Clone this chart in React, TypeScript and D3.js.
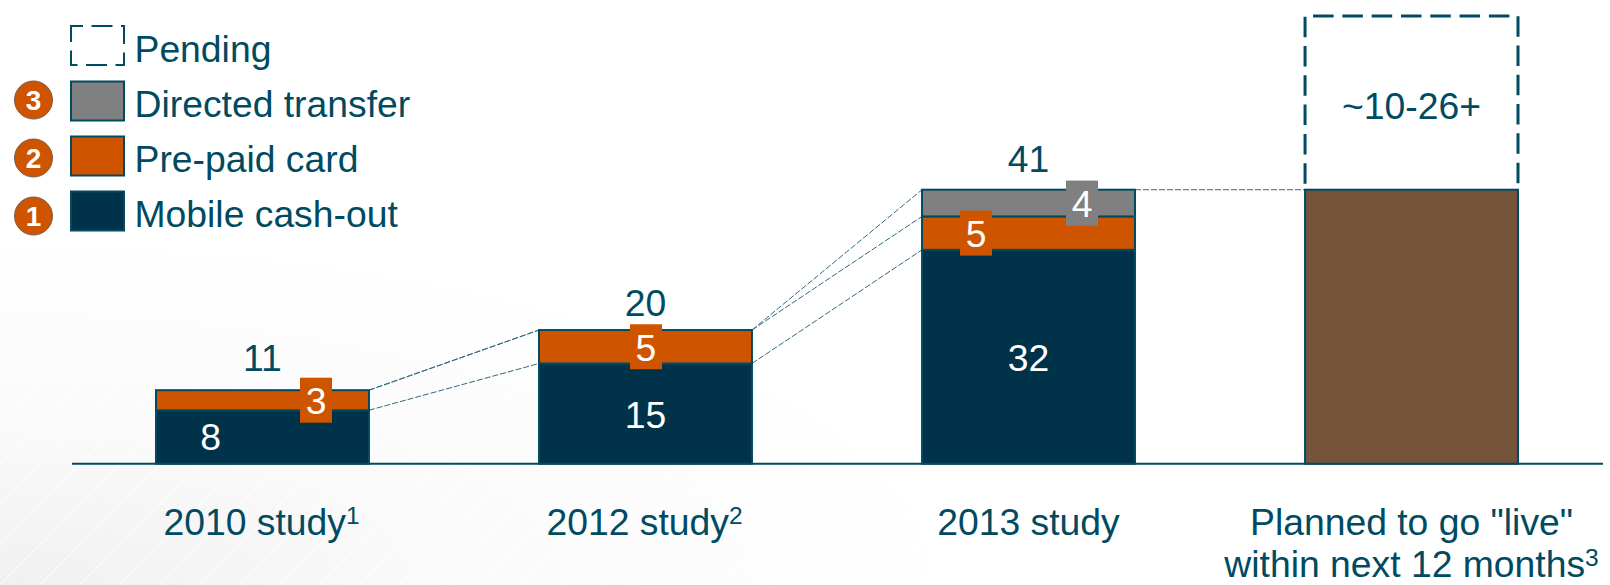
import { useEffect, useRef } from "react"
import * as d3 from "d3"

const studies = ["2010", "2012", "2013", "planned"]
const mobileCashOut = [8, 15, 32, 0]
const prePaidCard = [3, 5, 5, 0]
const directedTransfer = [0, 0, 4, 0]
const plannedLive = [0, 0, 0, 41]
const pendingHigh = 26
const totals = [11, 20, 41]
const pendingLabel = "~10-26+"
const legendLabels = ["Pending", "Directed transfer", "Pre-paid card", "Mobile cash-out"]
const legendBadges = ["", "3", "2", "1"]

const NAVY = "#003349"
const LINE = "#004b61"
const ORANGE = "#cf5400"
const GREY = "#808080"
const BROWN = "#75543b"
const FONT = "'Liberation Sans', Arial, sans-serif"
const FONT_SIZE = 37.3

export default function App() {
  const svgRef = useRef<SVGSVGElement>(null)

  useEffect(() => {
    if (!svgRef.current) return
    const width = 1610
    const height = 585
    const svg = d3.select(svgRef.current)
    svg.selectAll("*").remove()

    const x = d3.scaleBand().domain(studies).range([156, 1518]).paddingInner(0.444).paddingOuter(0)
    const y = d3.scaleLinear().domain([0, 41]).range([463.7, 189.7])

    // Background wash, lower left
    const defs = svg.append("defs")
    const grad = defs.append("radialGradient").attr("id", "wash").attr("cx", 0).attr("cy", 1).attr("r", 0.6)
    grad.append("stop").attr("offset", 0).attr("stop-color", "#f0f0f0")
    grad.append("stop").attr("offset", 0.45).attr("stop-color", "#fafafa")
    grad.append("stop").attr("offset", 1).attr("stop-color", "#ffffff")
    svg.append("rect").attr("width", width).attr("height", height).attr("fill", "url(#wash)")
    d3.range(-200, 1000, 40).forEach((s) => {
      svg.append("line").attr("x1", s).attr("y1", 585).attr("x2", s + 200).attr("y2", 385)
        .attr("stroke", "#fff").attr("stroke-width", 1.2).attr("stroke-opacity", 0.75)
    })

    // Dashed connectors
    const tops = studies.map((_, i) => [
      mobileCashOut[i],
      mobileCashOut[i] + prePaidCard[i],
      mobileCashOut[i] + prePaidCard[i] + directedTransfer[i],
    ])
    const connector = (x1: number, v1: number, x2: number, v2: number) =>
      svg.append("line").attr("x1", x1).attr("y1", y(v1)).attr("x2", x2).attr("y2", y(v2))
        .attr("stroke", "#2f6a7e").attr("stroke-width", 1).attr("stroke-dasharray", "6 2")
    for (let i = 0; i < 2; i++) {
      const x1 = x(studies[i])! + x.bandwidth()
      const x2 = x(studies[i + 1])!
      tops[i].forEach((v, k) => connector(x1, v, x2, tops[i + 1][k]))
    }
    connector(x(studies[2])! + x.bandwidth(), 41, x(studies[3])!, 41)

    // Axis
    svg.append("line").attr("x1", 72).attr("x2", 1603).attr("y1", y(0)).attr("y2", y(0))
      .attr("stroke", LINE).attr("stroke-width", 2)

    // Stacked bars
    const stack = d3.stack<number>()
      .keys(["m", "p", "d", "l"])
      .value((i, key) => ({ m: mobileCashOut, p: prePaidCard, d: directedTransfer, l: plannedLive } as any)[key][i])
    const colors: Record<string, string> = { m: NAVY, p: ORANGE, d: GREY, l: BROWN }
    stack(d3.range(studies.length)).forEach((layer) => {
      layer.forEach((seg, i) => {
        if (seg[1] === seg[0]) return
        svg.append("rect")
          .attr("x", x(studies[i])!).attr("width", x.bandwidth())
          .attr("y", y(seg[1])).attr("height", y(seg[0]) - y(seg[1]))
          .attr("fill", colors[layer.key]).attr("stroke", LINE).attr("stroke-width", 2)
      })
    })

    // Pending box, open at the bottom
    const px0 = x("planned")!
    const px1 = px0 + x.bandwidth()
    const pendingTop = y(plannedLive[3] + pendingHigh)
    const pendingBase = y(plannedLive[3]) - 6
    svg.append("path")
      .attr("d", `M${px0},${pendingBase}V${pendingTop}H${px1}V${pendingBase}`)
      .attr("fill", "none").attr("stroke", LINE).attr("stroke-width", 3).attr("stroke-dasharray", "20.5 8.8")

    const text = (tx: number, ty: number, s: string, fill = LINE, anchor = "middle") =>
      svg.append("text").attr("x", tx).attr("y", ty + 1.5).attr("fill", fill)
        .attr("text-anchor", anchor).attr("font-family", FONT).attr("font-size", FONT_SIZE).text(s)

    const cx = (i: number) => x(studies[i])! + x.bandwidth() / 2

    // Totals
    const totalGaps = [21, 16, 19]
    totals.forEach((t, i) => text(cx(i), y(tops[i][2]) - totalGaps[i], String(t)))
    text(cx(3), 117, pendingLabel)

    // Segment values, tags sit over the bars
    const tag = (tx: number, v: number, fill: string, val: number) => {
      svg.append("rect").attr("x", tx - 16).attr("y", y(v) - 22.5).attr("width", 32).attr("height", 45).attr("fill", fill)
      text(tx, y(v) + 12.5, String(val), "#fff")
    }
    text(210.5, y(mobileCashOut[0] / 2) + 12, String(mobileCashOut[0]), "#fff")
    text(cx(1), y(mobileCashOut[1] / 2) + 12.5, String(mobileCashOut[1]), "#fff")
    text(cx(2), y(mobileCashOut[2] / 2) + 12.5, String(mobileCashOut[2]), "#fff")
    tag(316, mobileCashOut[0] + prePaidCard[0] / 2, ORANGE, prePaidCard[0])
    tag(cx(1) + 0.5, mobileCashOut[1] + prePaidCard[1] / 2, ORANGE, prePaidCard[1])
    tag(976, mobileCashOut[2] + prePaidCard[2] / 2, ORANGE, prePaidCard[2])
    tag(1082, mobileCashOut[2] + prePaidCard[2] + directedTransfer[2] / 2, GREY, directedTransfer[2])

    // Category labels
    const catLabel = (cxv: number, yy: number, s: string, sup: string) => {
      const t = text(cxv, yy, s)
      t.append("tspan").attr("font-size", 24.5).attr("dy", -11).text(sup)
    }
    catLabel(cx(0) - 1, 533, "2010 study", "1")
    catLabel(cx(1) - 1, 533, "2012 study", "2")
    text(cx(2), 533, "2013 study")
    text(cx(3), 533, "Planned to go \"live\"")
    catLabel(cx(3), 575.5, "within next 12 months", "3")

    // Legend
    const legendY = [26, 81.5, 136.5, 191.5]
    const legendFill = ["none", GREY, ORANGE, NAVY]
    const badgeY = [0, 100, 158, 216]
    legendLabels.forEach((label, i) => {
      const r = svg.append("rect").attr("x", 71).attr("y", legendY[i]).attr("width", 53).attr("height", 39)
        .attr("fill", legendFill[i]).attr("stroke", LINE).attr("stroke-width", 2)
      if (i === 0) r.attr("stroke-dasharray", "21 8.5").attr("stroke-dashoffset", 9)
      text(134.5, legendY[i] + 34, label, LINE, "start")
      if (legendBadges[i]) {
        svg.append("circle").attr("cx", 33.5).attr("cy", badgeY[i]).attr("r", 19)
          .attr("fill", ORANGE).attr("stroke", "#7a5a48").attr("stroke-width", 1)
        svg.append("text").attr("x", 33.5).attr("y", badgeY[i] + 10).attr("text-anchor", "middle")
          .attr("fill", "#fff").attr("font-family", FONT).attr("font-weight", "bold").attr("font-size", 28)
          .text(legendBadges[i])
      }
    })
  }, [])

  return <svg ref={svgRef} width={1610} height={585} style={{ position: "absolute", left: 0, top: 0 }} />
}
